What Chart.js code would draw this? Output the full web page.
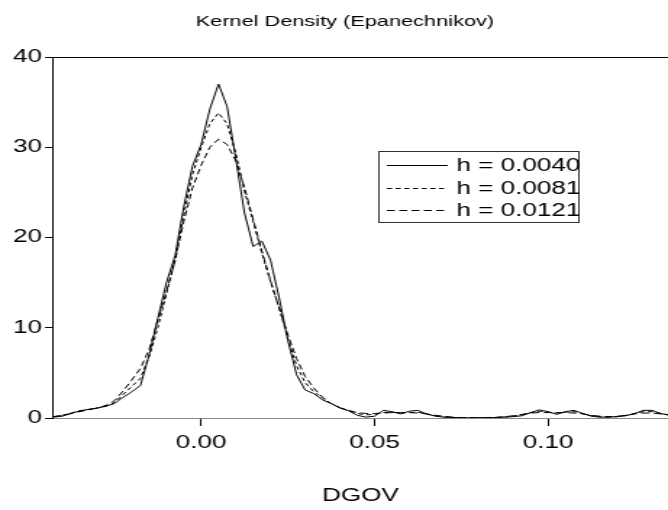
<!DOCTYPE html>
<html>
<head>
<meta charset="utf-8">
<script src="https://cdn.jsdelivr.net/npm/chart.js@4.4.1/dist/chart.umd.min.js"></script>
<style>
  html, body { margin: 0; padding: 0; background: #fff; overflow: hidden; }
  /* the source graph is a stretched export, so draw at 461px and widen to 668px */
  #kde { display: block; transform: scaleX(1.449); transform-origin: 0 0; }
</style>
</head>
<body>
<canvas id="kde" width="461" height="510"></canvas>
<script>
// evaluation grid of DGOV
const dgovGrid = [
  -0.0425, -0.0400, -0.0375, -0.0350, -0.0325, -0.0300, -0.0275, -0.0250, -0.0225, -0.0200,
  -0.0175, -0.0150, -0.0125, -0.0100, -0.0075, -0.0050, -0.0025, 0.0000, 0.0025, 0.0050,
  0.0075, 0.0100, 0.0125, 0.0150, 0.0175, 0.0200, 0.0225, 0.0250, 0.0275, 0.0300,
  0.0325, 0.0350, 0.0375, 0.0400, 0.0425, 0.0450, 0.0475, 0.0500, 0.0525, 0.0550,
  0.0575, 0.0600, 0.0625, 0.0650, 0.0675, 0.0700, 0.0725, 0.0750, 0.0775, 0.0800,
  0.0825, 0.0850, 0.0875, 0.0900, 0.0925, 0.0950, 0.0975, 0.1000, 0.1025, 0.1050,
  0.1075, 0.1100, 0.1125, 0.1150, 0.1175, 0.1200, 0.1225, 0.1250, 0.1275, 0.1300,
  0.1325, 0.1350
];

// density estimates, one per bandwidth
const densH0040 = [
  0.1, 0.2, 0.5, 0.8, 0.95, 1.1, 1.3, 1.6, 2.3, 2.9,
  3.6, 7.0, 11.0, 15.0, 18.0, 23.4, 27.9, 30.3, 34.2, 37.0,
  34.5, 28.7, 22.7, 19.0, 19.6, 17.5, 13.3, 8.6, 4.8, 3.1,
  2.7, 2.0, 1.6, 1.1, 0.8, 0.3, 0.1, 0.2, 0.85, 0.7,
  0.45, 0.75, 0.85, 0.45, 0.2, 0.1, 0.05, 0.03, 0.02, 0.02,
  0.03, 0.05, 0.1, 0.15, 0.25, 0.6, 0.9, 0.7, 0.4, 0.7,
  0.85, 0.5, 0.2, 0.1, 0.1, 0.15, 0.25, 0.5, 0.85, 0.85,
  0.5, 0.3
];
const densH0081 = [
  0.15, 0.3, 0.55, 0.8, 0.95, 1.1, 1.3, 1.7, 2.6, 3.5,
  4.4, 6.8, 10.0, 13.8, 17.5, 22.5, 27.0, 30.0, 32.6, 33.8,
  32.6, 29.3, 25.1, 21.8, 18.3, 15.1, 12.2, 8.8, 5.8, 3.9,
  2.9, 2.2, 1.6, 1.15, 0.8, 0.5, 0.35, 0.4, 0.6, 0.65,
  0.55, 0.6, 0.65, 0.45, 0.25, 0.1, 0.05, 0.03, 0.02, 0.02,
  0.03, 0.05, 0.1, 0.2, 0.35, 0.6, 0.75, 0.65, 0.55, 0.65,
  0.7, 0.5, 0.25, 0.12, 0.1, 0.15, 0.3, 0.5, 0.7, 0.7,
  0.5, 0.35
];
const densH0121 = [
  0.15, 0.3, 0.5, 0.7, 0.9, 1.1, 1.4, 1.9, 3.0, 4.2,
  5.5, 7.6, 10.8, 14.0, 17.5, 21.8, 25.5, 28.0, 30.0, 30.9,
  30.3, 28.5, 25.5, 22.0, 18.5, 15.2, 12.2, 9.2, 6.6, 4.6,
  3.3, 2.3, 1.6, 1.15, 0.85, 0.6, 0.5, 0.5, 0.55, 0.6,
  0.6, 0.6, 0.55, 0.45, 0.3, 0.2, 0.1, 0.05, 0.03, 0.03,
  0.05, 0.08, 0.15, 0.25, 0.4, 0.55, 0.6, 0.6, 0.6, 0.6,
  0.55, 0.45, 0.3, 0.2, 0.15, 0.2, 0.3, 0.45, 0.55, 0.55,
  0.45, 0.35
];

const chartTitle = 'Kernel Density (Epanechnikov)';
const bandwidthLabels = ['h = 0.0040', 'h = 0.0081', 'h = 0.0121'];
const xTickValues = [0, 0.05, 0.10];
const yTickValues = [0, 10, 20, 30, 40];

const FONT = '"Liberation Sans", Arial, sans-serif';
const axisFont = { family: FONT, size: 18 };

const toPoints = ys => dgovGrid.map((x, i) => ({ x, y: ys[i] }));

// title (centred on the original, uncropped page), top frame line, boxed key
const frameAndKey = {
  id: 'frameAndKey',
  afterDatasetsDraw(chart) {
    const { ctx, chartArea: a } = chart;
    ctx.save();
    ctx.fillStyle = '#000';
    ctx.font = '15px ' + FONT;
    ctx.textAlign = 'center';
    ctx.textBaseline = 'middle';
    ctx.fillText(chartTitle, 238, 22);

    ctx.lineWidth = 1;
    ctx.strokeStyle = '#000';
    ctx.beginPath();
    ctx.moveTo(a.left, a.top + 0.5);
    ctx.lineTo(a.right, a.top + 0.5);
    ctx.stroke();

    const bx = 261, by = 151, bw = 138, bh = 71;
    ctx.fillStyle = '#fff';
    ctx.fillRect(bx, by, bw, bh);
    ctx.strokeStyle = '#333';
    ctx.strokeRect(bx + 0.5, by + 0.5, bw, bh);

    ctx.font = '18px ' + FONT;
    ctx.textAlign = 'left';
    ctx.fillStyle = '#000';
    chart.data.datasets.forEach((ds, i) => {
      const y = Math.round(by + 14 + i * 22.5) + 0.5;
      ctx.strokeStyle = '#000';
      ctx.setLineDash(ds.borderDash || []);
      ctx.beginPath();
      ctx.moveTo(bx + 6, y);
      ctx.lineTo(bx + 48, y);
      ctx.stroke();
      ctx.setLineDash([]);
      ctx.fillText(ds.label, bx + 54, y + 1);
    });
    ctx.restore();
  }
};

const lineStyle = {
  borderColor: '#000',
  borderWidth: 1,
  pointRadius: 0,
  fill: false,
  tension: 0,
};

new Chart(document.getElementById('kde'), {
  type: 'line',
  data: {
    datasets: [
      { ...lineStyle, label: bandwidthLabels[0], data: toPoints(densH0040), borderDash: [] },
      { ...lineStyle, label: bandwidthLabels[1], data: toPoints(densH0081), borderDash: [3.5, 2.5] },
      { ...lineStyle, label: bandwidthLabels[2], data: toPoints(densH0121), borderDash: [5.5, 3] },
    ],
  },
  options: {
    responsive: false,
    animation: false,
    layout: { padding: { left: 0, right: 0, top: 57, bottom: 0 } },
    plugins: {
      legend: { display: false },
      tooltip: { enabled: false },
      title: { display: false },
    },
    scales: {
      x: {
        type: 'linear',
        min: -0.0427,
        max: 0.1346,
        afterBuildTicks: s => { s.ticks = xTickValues.map(v => ({ value: v })); },
        afterFit: s => { s.height = 92; },
        grid: { drawOnChartArea: false, drawTicks: true, tickLength: 8, tickColor: '#000' },
        border: { display: true, color: '#888' },
        ticks: { font: axisFont, color: '#000', padding: 6, maxRotation: 0, callback: v => v.toFixed(2) },
        title: { display: true, text: 'DGOV', color: '#000', font: axisFont, padding: { top: 0, bottom: 3 } },
      },
      y: {
        min: 0,
        max: 40,
        afterBuildTicks: s => { s.ticks = yTickValues.map(v => ({ value: v })); },
        afterFit: s => { s.width = 36.6; },
        grid: { drawOnChartArea: false, drawTicks: true, tickLength: 5.5, tickColor: '#000' },
        border: { display: true, color: '#000' },
        ticks: { font: axisFont, color: '#000', padding: 2 },
      },
    },
  },
  plugins: [frameAndKey],
});
</script>
</body>
</html>
